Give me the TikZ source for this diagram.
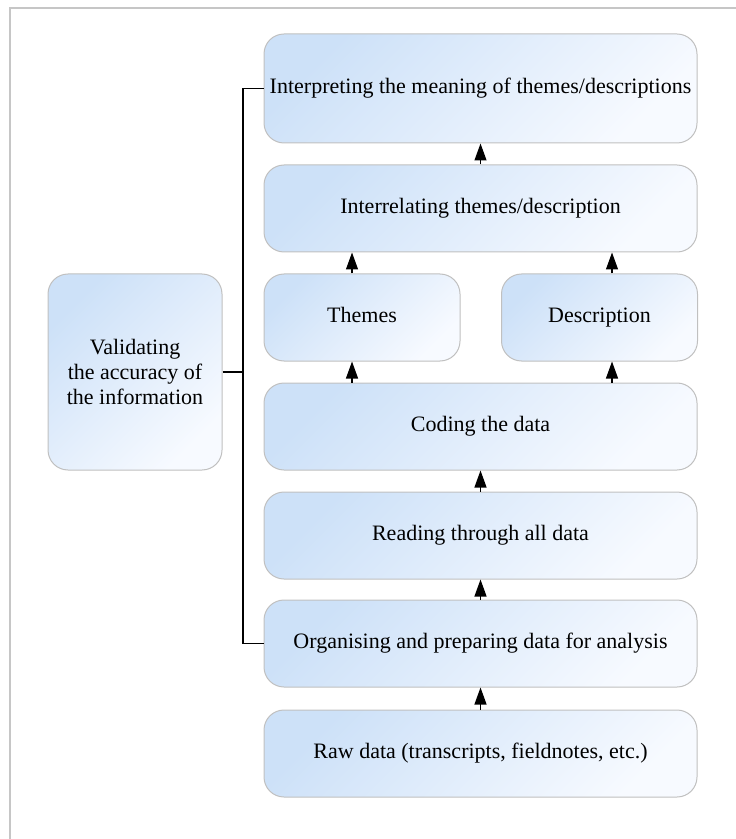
\documentclass[tikz,border=0pt]{standalone}
\usepackage{fontspec}
\setmainfont{Liberation Serif}
\usetikzlibrary{arrows.meta}
\definecolor{stageblue}{RGB}{205,225,248}
\definecolor{stagewhite}{RGB}{247,250,255}
\definecolor{rimgrey}{RGB}{192,192,192}
\definecolor{pagegrey}{RGB}{198,198,198}

\begin{document}
\begin{tikzpicture}[
  x=0.5pt, y=-0.5pt,
  every node/.append style={font=\fontsize{11}{12.5}\selectfont},
  stage/.style={draw=rimgrey, line width=0.5pt, rounded corners=10pt,
    top color=stageblue, bottom color=stagewhite, shading angle=45,
    minimum width=216.5pt, minimum height=43.5pt, align=center, inner sep=1pt},
  halfstage/.style={stage, minimum width=98pt, text height=1.6ex,
    text depth=0.45ex},
  flow/.style={draw, line width=0.6pt, -{Triangle[length=8.5pt,width=6pt]}},
  bracket/.style={draw, line width=0.6pt},
  pageframe/.style={draw=pagegrey, line width=1.2pt},
]

\useasboundingbox (0,0) rectangle (735,839);
\draw[pageframe] (10,845) -- (10,8) -- (745,8);

% ------------------------------------------------------------ the stages
% Bottom to top: raw material in, meaning out. Two stages share one row.
\node[stage, minimum height=54.5pt] (interp) at (480.5,88.5)
  {Interpreting the meaning of themes/descriptions};
\node[stage] (interrel) at (480.5,208.5) {Interrelating themes/description};
\node[halfstage] (themes) at (362,317.5) {Themes};
\node[halfstage] (descr) at (599.5,317.5) {Description};
\node[stage] (coding) at (480.5,426.5) {Coding the data};
\node[stage] (reading) at (480.5,535.5) {Reading through all data};
\node[stage] (organise) at (480.5,643.5)
  {Organising and preparing data for analysis};
\node[stage] (raw) at (480.5,753.5)
  {Raw data (transcripts, fieldnotes, etc.)};

% ------------------------------------------------------------ the arrows
\foreach \a/\b in {raw/organise, organise/reading, reading/coding,
    interrel/interp}{
  \draw[flow] (\a) -- (\b);
}
% The split row: arrows sit a little off the centres of the two halves.
\draw[flow] ([xshift=-5pt]themes.south |- coding.north)
  -- ([xshift=-5pt]themes.south);
\draw[flow] ([xshift=-5pt]themes.north)
  -- ([xshift=-5pt]themes.north |- interrel.south);
\draw[flow] ([xshift=6.25pt]descr.south |- coding.north)
  -- ([xshift=6.25pt]descr.south);
\draw[flow] ([xshift=6.25pt]descr.north)
  -- ([xshift=6.25pt]descr.north |- interrel.south);

% ------------------------------------------------------- the validation
\node[stage, minimum width=87pt, minimum height=98pt] (valid) at (135,372)
  {Validating\\the accuracy of\\the information};
\coordinate (spine) at (243,372);
\draw[bracket] (interp.west) -| (spine) |- (organise.west);
\draw[bracket] (valid.east) -- (spine);

\end{tikzpicture}
\end{document}
